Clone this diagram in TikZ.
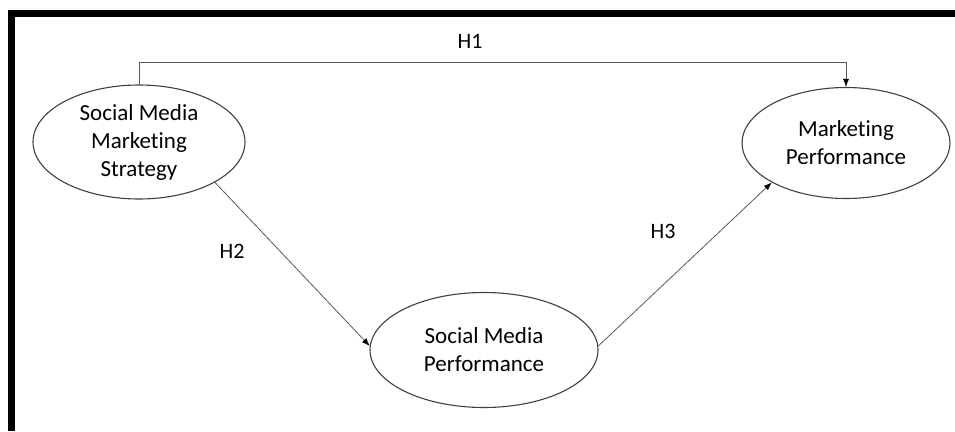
\documentclass[tikz,border=0pt]{standalone}
\usepackage{fontspec}
\setmainfont{Carlito}[Ligatures = NoCommon]
\usetikzlibrary{arrows.meta}
\usetikzlibrary{shapes.geometric}
\tikzset{
  construct/.style = {ellipse, draw = black!75, line width = 1.1pt, inner sep = 0pt,
    align = center, font = \fontsize{23}{28}\selectfont},
  path link/.style = {draw = black!65, line width = 0.8pt,
    -{Latex[length = 8pt, width = 6pt, black]}},
  hyp/.style = {font = \fontsize{22}{26}\selectfont}
}

\begin{document}
\begin{tikzpicture}[x = 1pt, y = -1pt]
  \useasboundingbox (0, 0) rectangle (955, 431);

  % frame, only top and left edges are visible
  \draw[line width = 7pt] (11.5, 431) -- (11.5, 13.5) -- (955, 13.5);

  \node[construct, minimum width = 212pt, minimum height = 114pt]
    (smms) at (139, 142) {Social Media\\Marketing\\Strategy};
  \node[construct, minimum width = 208pt, minimum height = 111pt]
    (mp) at (846, 143) {Marketing\\Performance};
  \node[construct, minimum width = 228pt, minimum height = 115pt]
    (smp) at (484, 350) {Social Media\\Performance};

  \draw[path link] (smms.north) -- ++(0, -22) -| (mp.north);
  \draw[path link] (smms.-28) -- (smp.178);
  \draw[path link] (smp.2) -- (mp.208);

  \node[hyp] (h1) at (470, 41) {H1};
  \node[hyp] (h2) at (232, 251) {H2};
  \node[hyp] (h3) at (663, 231) {H3};
\end{tikzpicture}
\end{document}
